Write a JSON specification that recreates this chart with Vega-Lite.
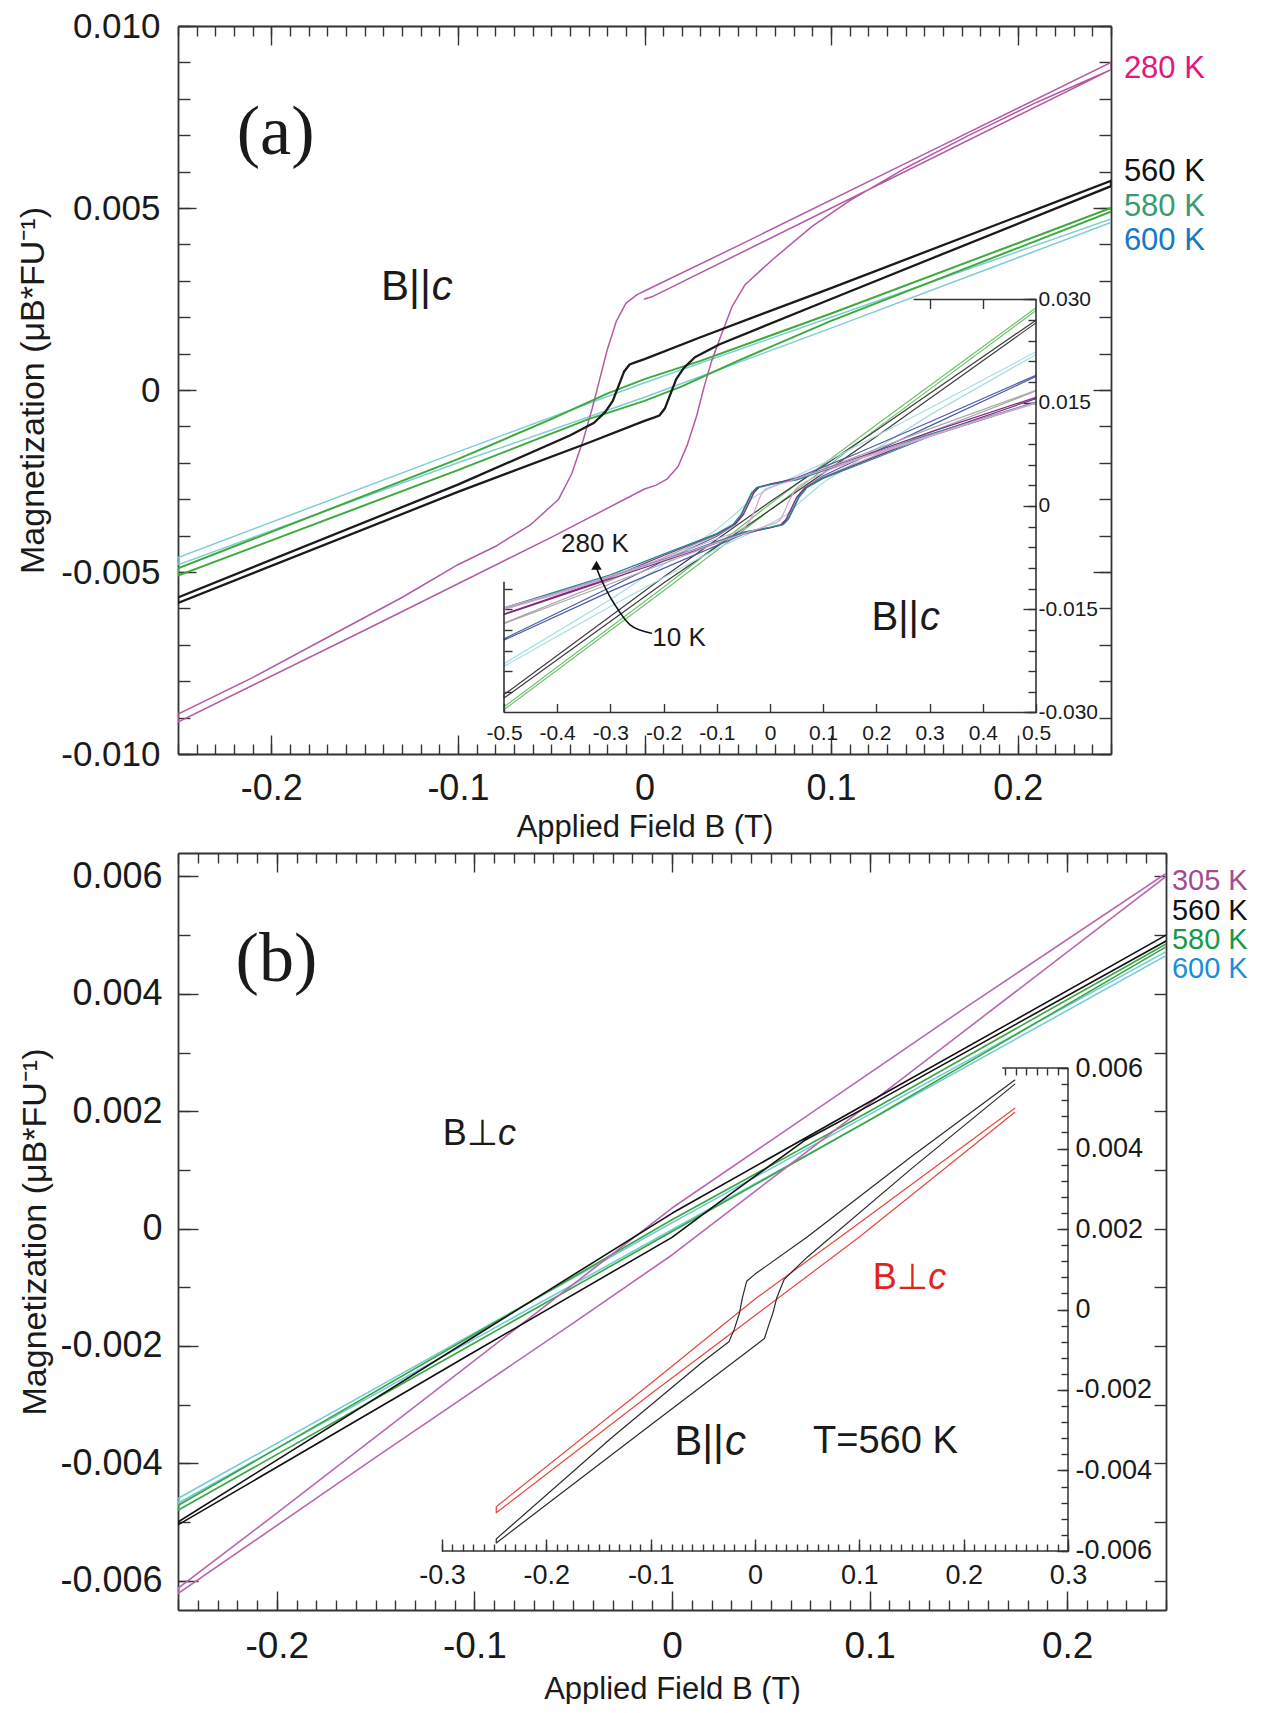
{
"$schema": "https://vega.github.io/schema/vega-lite/v6.json",
"background": "white",
"padding": {"left": 16, "top": 9, "right": 0, "bottom": 0},
"columns": 1,
"spacing": 10,
"config": {
  "view": {"stroke": null},
  "axis": {"grid": false, "labelFont": "Liberation Sans", "titleFont": "Liberation Sans", "labelColor": "#1a1a1a", "titleColor": "#1a1a1a", "tickColor": "#333333", "domainColor": "#333333", "labelFlush": false, "labelOverlap": false, "titleFontWeight": "normal", "tickWidth": 1.4, "domainWidth": 1.8},
  "text": {"font": "Liberation Sans", "color": "#1a1a1a"},
  "line": {"strokeJoin": "round", "strokeCap": "round"}
},
"datasets": {
  "a_main": [
    {"s":"a600","i":0,"B":0.25,"M":0.0047},{"s":"a600","i":1,"B":0.1,"M":0.002},{"s":"a600","i":2,"B":0,"M":0.0002},{"s":"a600","i":3,"B":-0.1,"M":-0.0017},{"s":"a600","i":4,"B":-0.25,"M":-0.0046},{"s":"a600","i":5,"B":-0.25,"M":-0.0048},{"s":"a600","i":6,"B":-0.1,"M":-0.002},{"s":"a600","i":7,"B":0,"M":-0.0002},{"s":"a600","i":8,"B":0.1,"M":0.0017},{"s":"a600","i":9,"B":0.25,"M":0.0046},
    {"s":"a580","i":0,"B":0.25,"M":0.005},{"s":"a580","i":1,"B":0.1,"M":0.0021},{"s":"a580","i":2,"B":0.03,"M":0.0008},{"s":"a580","i":3,"B":0,"M":0.0003},{"s":"a580","i":4,"B":-0.02,"M":-0.0001},{"s":"a580","i":5,"B":-0.05,"M":-0.0008},{"s":"a580","i":6,"B":-0.1,"M":-0.0019},{"s":"a580","i":7,"B":-0.25,"M":-0.0049},{"s":"a580","i":8,"B":-0.25,"M":-0.0051},{"s":"a580","i":9,"B":-0.1,"M":-0.0022},{"s":"a580","i":10,"B":-0.03,"M":-0.0008},{"s":"a580","i":11,"B":0,"M":-0.0003},{"s":"a580","i":12,"B":0.02,"M":0.0001},{"s":"a580","i":13,"B":0.05,"M":0.0008},{"s":"a580","i":14,"B":0.1,"M":0.0019},{"s":"a580","i":15,"B":0.25,"M":0.0049},
    {"s":"a280","i":0,"B":0,"M":0.0025},{"s":"a280","i":1,"B":0.004,"M":0.00256},{"s":"a280","i":2,"B":0.25,"M":0.0088},{"s":"a280","i":3,"B":0.25,"M":0.009},{"s":"a280","i":4,"B":0.15,"M":0.00648},{"s":"a280","i":5,"B":0.05,"M":0.00396},{"s":"a280","i":6,"B":0,"M":0.00272},{"s":"a280","i":7,"B":-0.004,"M":0.00262},{"s":"a280","i":8,"B":-0.01,"M":0.00238},{"s":"a280","i":9,"B":-0.015,"M":0.0019},{"s":"a280","i":10,"B":-0.02,"M":0.0011},{"s":"a280","i":11,"B":-0.024,"M":0.0003},{"s":"a280","i":12,"B":-0.028,"M":-0.0005},{"s":"a280","i":13,"B":-0.033,"M":-0.0014},{"s":"a280","i":14,"B":-0.039,"M":-0.0023},{"s":"a280","i":15,"B":-0.046,"M":-0.003},{"s":"a280","i":16,"B":-0.061,"M":-0.0037},{"s":"a280","i":17,"B":-0.08,"M":-0.0043},{"s":"a280","i":18,"B":-0.1,"M":-0.0048},{"s":"a280","i":19,"B":-0.13,"M":-0.0057},{"s":"a280","i":20,"B":-0.17,"M":-0.0068},{"s":"a280","i":21,"B":-0.21,"M":-0.0079},{"s":"a280","i":22,"B":-0.25,"M":-0.0089},{"s":"a280","i":23,"B":-0.25,"M":-0.00912},{"s":"a280","i":24,"B":-0.15,"M":-0.0066},{"s":"a280","i":25,"B":-0.05,"M":-0.00405},{"s":"a280","i":26,"B":0,"M":-0.00272},{"s":"a280","i":27,"B":0.006,"M":-0.00262},{"s":"a280","i":28,"B":0.012,"M":-0.00245},{"s":"a280","i":29,"B":0.018,"M":-0.0021},{"s":"a280","i":30,"B":0.023,"M":-0.0015},{"s":"a280","i":31,"B":0.028,"M":-0.0007},{"s":"a280","i":32,"B":0.032,"M":0.0001},{"s":"a280","i":33,"B":0.036,"M":0.0008},{"s":"a280","i":34,"B":0.041,"M":0.0015},{"s":"a280","i":35,"B":0.047,"M":0.0023},{"s":"a280","i":36,"B":0.054,"M":0.0029},{"s":"a280","i":37,"B":0.069,"M":0.0036},{"s":"a280","i":38,"B":0.09,"M":0.0045},{"s":"a280","i":39,"B":0.11,"M":0.0052},{"s":"a280","i":40,"B":0.14,"M":0.0061},{"s":"a280","i":41,"B":0.174,"M":0.007},{"s":"a280","i":42,"B":0.21,"M":0.0079},{"s":"a280","i":43,"B":0.25,"M":0.0088},
    {"s":"a560","i":0,"B":0.25,"M":0.00575},{"s":"a560","i":1,"B":0.1,"M":0.0028},{"s":"a560","i":2,"B":0.03,"M":0.00145},{"s":"a560","i":3,"B":0,"M":0.00085},{"s":"a560","i":4,"B":-0.005,"M":0.00076},{"s":"a560","i":5,"B":-0.008,"M":0.0007},{"s":"a560","i":6,"B":-0.011,"M":0.0005},{"s":"a560","i":7,"B":-0.014,"M":0.0001},{"s":"a560","i":8,"B":-0.017,"M":-0.0003},{"s":"a560","i":9,"B":-0.021,"M":-0.0006},{"s":"a560","i":10,"B":-0.027,"M":-0.0009},{"s":"a560","i":11,"B":-0.04,"M":-0.00125},{"s":"a560","i":12,"B":-0.1,"M":-0.0026},{"s":"a560","i":13,"B":-0.25,"M":-0.0057},{"s":"a560","i":14,"B":-0.25,"M":-0.00585},{"s":"a560","i":15,"B":-0.1,"M":-0.0028},{"s":"a560","i":16,"B":-0.03,"M":-0.00145},{"s":"a560","i":17,"B":0,"M":-0.00085},{"s":"a560","i":18,"B":0.005,"M":-0.00076},{"s":"a560","i":19,"B":0.008,"M":-0.0007},{"s":"a560","i":20,"B":0.011,"M":-0.0005},{"s":"a560","i":21,"B":0.014,"M":-0.0001},{"s":"a560","i":22,"B":0.017,"M":0.0003},{"s":"a560","i":23,"B":0.021,"M":0.0006},{"s":"a560","i":24,"B":0.027,"M":0.0009},{"s":"a560","i":25,"B":0.04,"M":0.00125},{"s":"a560","i":26,"B":0.1,"M":0.0025},{"s":"a560","i":27,"B":0.25,"M":0.0056},{"s":"a560","i":28,"B":0.25,"M":0.00575}
  ],
  "a_inset": [
    {"s":"i10","i":0,"B":0.5,"M":0.0288},{"s":"i10","i":1,"B":0.2,"M":0.0118},{"s":"i10","i":2,"B":0,"M":0.0003},{"s":"i10","i":3,"B":-0.2,"M":-0.0118},{"s":"i10","i":4,"B":-0.5,"M":-0.0292},{"s":"i10","i":5,"B":-0.5,"M":-0.0296},{"s":"i10","i":6,"B":-0.2,"M":-0.0123},{"s":"i10","i":7,"B":0,"M":-0.0006},{"s":"i10","i":8,"B":0.2,"M":0.0112},{"s":"i10","i":9,"B":0.5,"M":0.0284},
    {"s":"iblack","i":0,"B":0.5,"M":0.027},{"s":"iblack","i":1,"B":0.2,"M":0.011},{"s":"iblack","i":2,"B":0,"M":0.0006},{"s":"iblack","i":3,"B":-0.2,"M":-0.0103},{"s":"iblack","i":4,"B":-0.5,"M":-0.0274},{"s":"iblack","i":5,"B":-0.5,"M":-0.0279},{"s":"iblack","i":6,"B":-0.2,"M":-0.0112},{"s":"iblack","i":7,"B":0,"M":-0.0006},{"s":"iblack","i":8,"B":0.2,"M":0.0101},{"s":"iblack","i":9,"B":0.5,"M":0.0266},
    {"s":"icyan","i":0,"B":0.5,"M":0.0224},{"s":"icyan","i":1,"B":0.3,"M":0.0142},{"s":"icyan","i":2,"B":0.1,"M":0.0062},{"s":"icyan","i":3,"B":0,"M":0.0026},{"s":"icyan","i":4,"B":-0.03,"M":0.0013},{"s":"icyan","i":5,"B":-0.06,"M":-0.0008},{"s":"icyan","i":6,"B":-0.1,"M":-0.0034},{"s":"icyan","i":7,"B":-0.3,"M":-0.0136},{"s":"icyan","i":8,"B":-0.5,"M":-0.0229},{"s":"icyan","i":9,"B":-0.5,"M":-0.0233},{"s":"icyan","i":10,"B":-0.3,"M":-0.0146},{"s":"icyan","i":11,"B":-0.1,"M":-0.0062},{"s":"icyan","i":12,"B":0,"M":-0.0026},{"s":"icyan","i":13,"B":0.03,"M":-0.0013},{"s":"icyan","i":14,"B":0.06,"M":0.0008},{"s":"icyan","i":15,"B":0.1,"M":0.0034},{"s":"icyan","i":16,"B":0.3,"M":0.0132},{"s":"icyan","i":17,"B":0.5,"M":0.022},
    {"s":"iblue","i":0,"B":0.5,"M":0.019},{"s":"iblue","i":1,"B":0.3,"M":0.0122},{"s":"iblue","i":2,"B":0.15,"M":0.0072},{"s":"iblue","i":3,"B":0.05,"M":0.0041},{"s":"iblue","i":4,"B":0,"M":0.0031},{"s":"iblue","i":5,"B":-0.025,"M":0.0026},{"s":"iblue","i":6,"B":-0.035,"M":0.0017},{"s":"iblue","i":7,"B":-0.045,"M":0.0001},{"s":"iblue","i":8,"B":-0.055,"M":-0.0015},{"s":"iblue","i":9,"B":-0.07,"M":-0.0029},{"s":"iblue","i":10,"B":-0.1,"M":-0.0044},{"s":"iblue","i":11,"B":-0.2,"M":-0.008},{"s":"iblue","i":12,"B":-0.3,"M":-0.0118},{"s":"iblue","i":13,"B":-0.5,"M":-0.0193},{"s":"iblue","i":14,"B":-0.5,"M":-0.0195},{"s":"iblue","i":15,"B":-0.3,"M":-0.0124},{"s":"iblue","i":16,"B":-0.15,"M":-0.0074},{"s":"iblue","i":17,"B":-0.05,"M":-0.0041},{"s":"iblue","i":18,"B":0,"M":-0.0031},{"s":"iblue","i":19,"B":0.025,"M":-0.0026},{"s":"iblue","i":20,"B":0.035,"M":-0.0017},{"s":"iblue","i":21,"B":0.045,"M":-0.0001},{"s":"iblue","i":22,"B":0.055,"M":0.0015},{"s":"iblue","i":23,"B":0.07,"M":0.0029},{"s":"iblue","i":24,"B":0.1,"M":0.0044},{"s":"iblue","i":25,"B":0.2,"M":0.008},{"s":"iblue","i":26,"B":0.3,"M":0.0116},{"s":"iblue","i":27,"B":0.5,"M":0.0188},
    {"s":"igray","i":0,"B":0.5,"M":0.0168},{"s":"igray","i":1,"B":0.3,"M":0.0112},{"s":"igray","i":2,"B":0.15,"M":0.0068},{"s":"igray","i":3,"B":0.05,"M":0.0039},{"s":"igray","i":4,"B":0,"M":0.0031},{"s":"igray","i":5,"B":-0.02,"M":0.0027},{"s":"igray","i":6,"B":-0.03,"M":0.0019},{"s":"igray","i":7,"B":-0.04,"M":0.0003},{"s":"igray","i":8,"B":-0.05,"M":-0.0013},{"s":"igray","i":9,"B":-0.065,"M":-0.0027},{"s":"igray","i":10,"B":-0.1,"M":-0.0042},{"s":"igray","i":11,"B":-0.2,"M":-0.0075},{"s":"igray","i":12,"B":-0.3,"M":-0.0108},{"s":"igray","i":13,"B":-0.5,"M":-0.017},{"s":"igray","i":14,"B":-0.5,"M":-0.0171},{"s":"igray","i":15,"B":-0.3,"M":-0.0113},{"s":"igray","i":16,"B":-0.15,"M":-0.0069},{"s":"igray","i":17,"B":-0.05,"M":-0.0039},{"s":"igray","i":18,"B":0,"M":-0.0031},{"s":"igray","i":19,"B":0.02,"M":-0.0027},{"s":"igray","i":20,"B":0.03,"M":-0.0019},{"s":"igray","i":21,"B":0.04,"M":-0.0003},{"s":"igray","i":22,"B":0.05,"M":0.0013},{"s":"igray","i":23,"B":0.065,"M":0.0027},{"s":"igray","i":24,"B":0.1,"M":0.0042},{"s":"igray","i":25,"B":0.2,"M":0.0074},{"s":"igray","i":26,"B":0.3,"M":0.0107},{"s":"igray","i":27,"B":0.5,"M":0.0167},
    {"s":"ipurple","i":0,"B":0.5,"M":0.0158},{"s":"ipurple","i":1,"B":0.3,"M":0.0107},{"s":"ipurple","i":2,"B":0.15,"M":0.0066},{"s":"ipurple","i":3,"B":0.05,"M":0.0039},{"s":"ipurple","i":4,"B":0,"M":0.0032},{"s":"ipurple","i":5,"B":-0.02,"M":0.0028},{"s":"ipurple","i":6,"B":-0.03,"M":0.002},{"s":"ipurple","i":7,"B":-0.04,"M":0.0004},{"s":"ipurple","i":8,"B":-0.05,"M":-0.0012},{"s":"ipurple","i":9,"B":-0.065,"M":-0.0026},{"s":"ipurple","i":10,"B":-0.1,"M":-0.0041},{"s":"ipurple","i":11,"B":-0.2,"M":-0.0072},{"s":"ipurple","i":12,"B":-0.3,"M":-0.0104},{"s":"ipurple","i":13,"B":-0.5,"M":-0.0157},{"s":"ipurple","i":14,"B":-0.5,"M":-0.0158},{"s":"ipurple","i":15,"B":-0.3,"M":-0.0106},{"s":"ipurple","i":16,"B":-0.15,"M":-0.0067},{"s":"ipurple","i":17,"B":-0.05,"M":-0.0039},{"s":"ipurple","i":18,"B":0,"M":-0.0032},{"s":"ipurple","i":19,"B":0.02,"M":-0.0028},{"s":"ipurple","i":20,"B":0.03,"M":-0.002},{"s":"ipurple","i":21,"B":0.04,"M":-0.0004},{"s":"ipurple","i":22,"B":0.05,"M":0.0012},{"s":"ipurple","i":23,"B":0.065,"M":0.0026},{"s":"ipurple","i":24,"B":0.1,"M":0.0041},{"s":"ipurple","i":25,"B":0.2,"M":0.0072},{"s":"ipurple","i":26,"B":0.3,"M":0.0103},{"s":"ipurple","i":27,"B":0.5,"M":0.0156},
    {"s":"iteal","i":0,"B":0.5,"M":0.0151},{"s":"iteal","i":1,"B":0.3,"M":0.0104},{"s":"iteal","i":2,"B":0.15,"M":0.0064},{"s":"iteal","i":3,"B":0.05,"M":0.0038},{"s":"iteal","i":4,"B":0,"M":0.0031},{"s":"iteal","i":5,"B":-0.025,"M":0.0027},{"s":"iteal","i":6,"B":-0.035,"M":0.0019},{"s":"iteal","i":7,"B":-0.045,"M":0.0003},{"s":"iteal","i":8,"B":-0.055,"M":-0.0013},{"s":"iteal","i":9,"B":-0.07,"M":-0.0027},{"s":"iteal","i":10,"B":-0.1,"M":-0.004},{"s":"iteal","i":11,"B":-0.2,"M":-0.007},{"s":"iteal","i":12,"B":-0.3,"M":-0.01},{"s":"iteal","i":13,"B":-0.5,"M":-0.0148},{"s":"iteal","i":14,"B":-0.5,"M":-0.015},{"s":"iteal","i":15,"B":-0.3,"M":-0.0102},{"s":"iteal","i":16,"B":-0.15,"M":-0.0065},{"s":"iteal","i":17,"B":-0.05,"M":-0.0038},{"s":"iteal","i":18,"B":0,"M":-0.0031},{"s":"iteal","i":19,"B":0.025,"M":-0.0027},{"s":"iteal","i":20,"B":0.035,"M":-0.0019},{"s":"iteal","i":21,"B":0.045,"M":-0.0003},{"s":"iteal","i":22,"B":0.055,"M":0.0013},{"s":"iteal","i":23,"B":0.07,"M":0.0027},{"s":"iteal","i":24,"B":0.1,"M":0.004},{"s":"iteal","i":25,"B":0.2,"M":0.007},{"s":"iteal","i":26,"B":0.3,"M":0.0101},{"s":"iteal","i":27,"B":0.5,"M":0.015},
    {"s":"ipink","i":0,"B":0.5,"M":0.015},{"s":"ipink","i":1,"B":0.4,"M":0.0127},{"s":"ipink","i":2,"B":0.25,"M":0.009},{"s":"ipink","i":3,"B":0.15,"M":0.00648},{"s":"ipink","i":4,"B":0.05,"M":0.00396},{"s":"ipink","i":5,"B":0,"M":0.00272},{"s":"ipink","i":6,"B":-0.004,"M":0.00262},{"s":"ipink","i":7,"B":-0.01,"M":0.00238},{"s":"ipink","i":8,"B":-0.015,"M":0.0019},{"s":"ipink","i":9,"B":-0.02,"M":0.0011},{"s":"ipink","i":10,"B":-0.024,"M":0.0003},{"s":"ipink","i":11,"B":-0.028,"M":-0.0005},{"s":"ipink","i":12,"B":-0.033,"M":-0.0014},{"s":"ipink","i":13,"B":-0.039,"M":-0.0023},{"s":"ipink","i":14,"B":-0.046,"M":-0.003},{"s":"ipink","i":15,"B":-0.061,"M":-0.0037},{"s":"ipink","i":16,"B":-0.1,"M":-0.0048},{"s":"ipink","i":17,"B":-0.17,"M":-0.0068},{"s":"ipink","i":18,"B":-0.25,"M":-0.0089},{"s":"ipink","i":19,"B":-0.4,"M":-0.0126},{"s":"ipink","i":20,"B":-0.5,"M":-0.0148},{"s":"ipink","i":21,"B":-0.5,"M":-0.015},{"s":"ipink","i":22,"B":-0.4,"M":-0.0128},{"s":"ipink","i":23,"B":-0.25,"M":-0.00912},{"s":"ipink","i":24,"B":-0.05,"M":-0.00405},{"s":"ipink","i":25,"B":0,"M":-0.00272},{"s":"ipink","i":26,"B":0.012,"M":-0.00245},{"s":"ipink","i":27,"B":0.018,"M":-0.0021},{"s":"ipink","i":28,"B":0.023,"M":-0.0015},{"s":"ipink","i":29,"B":0.028,"M":-0.0007},{"s":"ipink","i":30,"B":0.032,"M":0.0001},{"s":"ipink","i":31,"B":0.036,"M":0.0008},{"s":"ipink","i":32,"B":0.041,"M":0.0015},{"s":"ipink","i":33,"B":0.047,"M":0.0023},{"s":"ipink","i":34,"B":0.054,"M":0.0029},{"s":"ipink","i":35,"B":0.069,"M":0.0036},{"s":"ipink","i":36,"B":0.11,"M":0.0052},{"s":"ipink","i":37,"B":0.174,"M":0.007},{"s":"ipink","i":38,"B":0.25,"M":0.0088},{"s":"ipink","i":39,"B":0.4,"M":0.0126},{"s":"ipink","i":40,"B":0.5,"M":0.0149}
  ],
  "b_main": [
    {"s":"b600","i":0,"B":0.25,"M":0.00472},{"s":"b600","i":1,"B":0,"M":0.0001},{"s":"b600","i":2,"B":-0.25,"M":-0.0046},{"s":"b600","i":3,"B":-0.25,"M":-0.00468},{"s":"b600","i":4,"B":0,"M":-0.00002},{"s":"b600","i":5,"B":0.25,"M":0.00465},
    {"s":"b580","i":0,"B":0.25,"M":0.00485},{"s":"b580","i":1,"B":0.1,"M":0.002},{"s":"b580","i":2,"B":0,"M":0.00015},{"s":"b580","i":3,"B":-0.1,"M":-0.0018},{"s":"b580","i":4,"B":-0.25,"M":-0.00472},{"s":"b580","i":5,"B":-0.25,"M":-0.0048},{"s":"b580","i":6,"B":-0.1,"M":-0.00195},{"s":"b580","i":7,"B":0,"M":-0.00005},{"s":"b580","i":8,"B":0.1,"M":0.00185},{"s":"b580","i":9,"B":0.25,"M":0.0048},
    {"s":"b305","i":0,"B":0.25,"M":0.00605},{"s":"b305","i":1,"B":0.15,"M":0.0038},{"s":"b305","i":2,"B":0.05,"M":0.0015},{"s":"b305","i":3,"B":0,"M":0.00035},{"s":"b305","i":4,"B":-0.1,"M":-0.00225},{"s":"b305","i":5,"B":-0.2,"M":-0.00485},{"s":"b305","i":6,"B":-0.25,"M":-0.00613},{"s":"b305","i":7,"B":-0.25,"M":-0.00622},{"s":"b305","i":8,"B":-0.15,"M":-0.0039},{"s":"b305","i":9,"B":-0.05,"M":-0.00161},{"s":"b305","i":10,"B":0,"M":-0.00045},{"s":"b305","i":11,"B":0.1,"M":0.00213},{"s":"b305","i":12,"B":0.2,"M":0.00471},{"s":"b305","i":13,"B":0.25,"M":0.006},
    {"s":"b560","i":0,"B":0.25,"M":0.005},{"s":"b560","i":1,"B":0.1,"M":0.00216},{"s":"b560","i":2,"B":0,"M":0.00026},{"s":"b560","i":3,"B":-0.1,"M":-0.00184},{"s":"b560","i":4,"B":-0.25,"M":-0.005},{"s":"b560","i":5,"B":-0.25,"M":-0.00505},{"s":"b560","i":6,"B":-0.1,"M":-0.0021},{"s":"b560","i":7,"B":0,"M":-0.00015},{"s":"b560","i":8,"B":0.03,"M":0.0006},{"s":"b560","i":9,"B":0.067,"M":0.0015},{"s":"b560","i":10,"B":0.1,"M":0.0021},{"s":"b560","i":11,"B":0.25,"M":0.0049}
  ],
  "b_inset": [
    {"s":"ibred","i":0,"B":0.249,"M":0.005},{"s":"ibred","i":1,"B":0.1,"M":0.00215},{"s":"ibred","i":2,"B":0,"M":0.00026},{"s":"ibred","i":3,"B":-0.1,"M":-0.00184},{"s":"ibred","i":4,"B":-0.248,"M":-0.0049},{"s":"ibred","i":5,"B":-0.248,"M":-0.00505},{"s":"ibred","i":6,"B":-0.1,"M":-0.0021},{"s":"ibred","i":7,"B":0,"M":-0.00015},{"s":"ibred","i":8,"B":0.1,"M":0.0018},{"s":"ibred","i":9,"B":0.249,"M":0.0049},
    {"s":"ibblack","i":0,"B":0.249,"M":0.0057},{"s":"ibblack","i":1,"B":0.15,"M":0.0038},{"s":"ibblack","i":2,"B":0.05,"M":0.0018},{"s":"ibblack","i":3,"B":0,"M":0.00088},{"s":"ibblack","i":4,"B":-0.008,"M":0.0007},{"s":"ibblack","i":5,"B":-0.012,"M":0.0003},{"s":"ibblack","i":6,"B":-0.015,"M":-0.0001},{"s":"ibblack","i":7,"B":-0.02,"M":-0.0005},{"s":"ibblack","i":8,"B":-0.025,"M":-0.0008},{"s":"ibblack","i":9,"B":-0.05,"M":-0.0013},{"s":"ibblack","i":10,"B":-0.138,"M":-0.0032},{"s":"ibblack","i":11,"B":-0.248,"M":-0.0057},{"s":"ibblack","i":12,"B":-0.248,"M":-0.0058},{"s":"ibblack","i":13,"B":-0.1,"M":-0.00287},{"s":"ibblack","i":14,"B":0,"M":-0.0009},{"s":"ibblack","i":15,"B":0.009,"M":-0.00072},{"s":"ibblack","i":16,"B":0.013,"M":-0.0004},{"s":"ibblack","i":17,"B":0.017,"M":-0.0001},{"s":"ibblack","i":18,"B":0.021,"M":0.0003},{"s":"ibblack","i":19,"B":0.028,"M":0.00075},{"s":"ibblack","i":20,"B":0.05,"M":0.0013},{"s":"ibblack","i":21,"B":0.15,"M":0.0035},{"s":"ibblack","i":22,"B":0.249,"M":0.0056}
  ]
},
"concat": [
 {
  "width": 933, "height": 728,
  "resolve": {"scale": {"x": "independent", "y": "independent", "color": "independent"}},
  "layer": [
   {
    "resolve": {"axis": {"x": "independent", "y": "independent"}},
    "layer": [
     {"data": {"name": "a_main"}, "transform": [{"filter": "datum.s == 'a600' || datum.s == 'a280'"}],
      "mark": {"type": "line", "clip": true, "strokeWidth": 1.5},
      "encoding": {
        "x": {"field": "B", "type": "quantitative", "scale": {"domain": [-0.25, 0.25], "nice": false, "zero": false},
              "axis": {"orient": "bottom", "values": [-0.2, -0.1, 0, 0.1, 0.2], "labelExpr": "datum.value == 0 ? '0' : replace(format(datum.value, '.1f'), '−', '-')", "tickSize": -19, "labelFontSize": 36, "labelPadding": 36, "title": "Applied Field B (T)", "titleFontSize": 31, "titlePadding": 6}},
        "y": {"field": "M", "type": "quantitative", "scale": {"domain": [-0.01, 0.01], "nice": false, "zero": false},
              "axis": {"orient": "left", "values": [-0.01, -0.005, 0, 0.005, 0.01], "labelExpr": "datum.value == 0 ? '0' : replace(format(datum.value, '.3f'), '−', '-')", "tickSize": -18, "labelFontSize": 35, "labelPadding": 36, "title": "Magnetization (μB*FU⁻¹)", "titleFontSize": 34, "titlePadding": 10}},
        "color": {"field": "s", "type": "nominal", "scale": {"domain": ["a600", "a580", "a280", "a560"], "range": ["#7dcdd5", "#3daa3d", "#b35aa5", "#1a1a1a"]}, "legend": null},
        "order": {"field": "i", "type": "quantitative"}
      }},
     {"data": {"name": "a_main"}, "transform": [{"filter": "datum.s == 'a580'"}],
      "mark": {"type": "line", "clip": true, "strokeWidth": 2.0},
      "encoding": {
        "x": {"field": "B", "type": "quantitative", "scale": {"domain": [-0.25, 0.25], "nice": false, "zero": false}, "axis": null},
        "y": {"field": "M", "type": "quantitative", "scale": {"domain": [-0.01, 0.01], "nice": false, "zero": false}, "axis": null},
        "color": {"field": "s", "type": "nominal", "scale": {"domain": ["a600", "a580", "a280", "a560"], "range": ["#7dcdd5", "#3daa3d", "#b35aa5", "#1a1a1a"]}, "legend": null},
        "order": {"field": "i", "type": "quantitative"}
      }},
     {"data": {"name": "a_main"}, "transform": [{"filter": "datum.s == 'a560'"}],
      "mark": {"type": "line", "clip": true, "strokeWidth": 2.3},
      "encoding": {
        "x": {"field": "B", "type": "quantitative", "scale": {"domain": [-0.25, 0.25], "nice": false, "zero": false}, "axis": null},
        "y": {"field": "M", "type": "quantitative", "scale": {"domain": [-0.01, 0.01], "nice": false, "zero": false}, "axis": null},
        "color": {"field": "s", "type": "nominal", "scale": {"domain": ["a600", "a580", "a280", "a560"], "range": ["#7dcdd5", "#3daa3d", "#b35aa5", "#1a1a1a"]}, "legend": null},
        "order": {"field": "i", "type": "quantitative"}
      }},
     {"data": {"name": "a_main"}, "mark": {"type": "point", "opacity": 0},
      "encoding": {
        "x": {"field": "B", "type": "quantitative", "scale": {"domain": [-0.25, 0.25], "nice": false, "zero": false},
              "axis": {"orient": "bottom", "values": [-0.25,-0.24,-0.23,-0.22,-0.21,-0.2,-0.19,-0.18,-0.17,-0.16,-0.15,-0.14,-0.13,-0.12,-0.11,-0.1,-0.09,-0.08,-0.07,-0.06,-0.05,-0.04,-0.03,-0.02,-0.01,0,0.01,0.02,0.03,0.04,0.05,0.06,0.07,0.08,0.09,0.1,0.11,0.12,0.13,0.14,0.15,0.16,0.17,0.18,0.19,0.2,0.21,0.22,0.23,0.24,0.25], "tickSize": -10, "labels": false, "domain": false, "title": null}},
        "y": {"field": "M", "type": "quantitative", "scale": {"domain": [-0.01, 0.01], "nice": false, "zero": false},
              "axis": {"orient": "left", "values": [-0.01,-0.009,-0.008,-0.007,-0.006,-0.005,-0.004,-0.003,-0.002,-0.001,0,0.001,0.002,0.003,0.004,0.005,0.006,0.007,0.008,0.009,0.01], "tickSize": -12, "labels": false, "domain": false, "title": null}}
      }},
     {"data": {"name": "a_main"}, "mark": {"type": "point", "opacity": 0},
      "encoding": {
        "x": {"field": "B", "type": "quantitative", "scale": {"domain": [-0.25, 0.25], "nice": false, "zero": false},
              "axis": {"orient": "top", "values": [-0.2, -0.1, 0, 0.1, 0.2], "tickSize": -19, "labels": false, "title": null}},
        "y": {"field": "M", "type": "quantitative", "scale": {"domain": [-0.01, 0.01], "nice": false, "zero": false},
              "axis": {"orient": "right", "values": [-0.01, -0.005, 0, 0.005, 0.01], "tickSize": -18, "labels": false, "title": null}}
      }},
     {"data": {"name": "a_main"}, "mark": {"type": "point", "opacity": 0},
      "encoding": {
        "x": {"field": "B", "type": "quantitative", "scale": {"domain": [-0.25, 0.25], "nice": false, "zero": false},
              "axis": {"orient": "top", "values": [-0.25,-0.24,-0.23,-0.22,-0.21,-0.2,-0.19,-0.18,-0.17,-0.16,-0.15,-0.14,-0.13,-0.12,-0.11,-0.1,-0.09,-0.08,-0.07,-0.06,-0.05,-0.04,-0.03,-0.02,-0.01,0,0.01,0.02,0.03,0.04,0.05,0.06,0.07,0.08,0.09,0.1,0.11,0.12,0.13,0.14,0.15,0.16,0.17,0.18,0.19,0.2,0.21,0.22,0.23,0.24,0.25], "tickSize": -10, "labels": false, "domain": false, "title": null}},
        "y": {"field": "M", "type": "quantitative", "scale": {"domain": [-0.01, 0.01], "nice": false, "zero": false},
              "axis": {"orient": "right", "values": [-0.01,-0.009,-0.008,-0.007,-0.006,-0.005,-0.004,-0.003,-0.002,-0.001,0,0.001,0.002,0.003,0.004,0.005,0.006,0.007,0.008,0.009,0.01], "tickSize": -12, "labels": false, "domain": false, "title": null}}
      }},
     {"data": {"values": [{"t": "(a)", "B": -0.1977, "M": 0.00706}]},
      "mark": {"type": "text", "font": "Liberation Serif", "fontSize": 70, "align": "center", "baseline": "middle"},
      "encoding": {
        "x": {"field": "B", "type": "quantitative", "scale": {"domain": [-0.25, 0.25], "nice": false, "zero": false}, "axis": null},
        "y": {"field": "M", "type": "quantitative", "scale": {"domain": [-0.01, 0.01], "nice": false, "zero": false}, "axis": null},
        "text": {"field": "t"}}},
     {"data": {"values": [{"t": "B||", "B": -0.1145, "M": 0.00283}]},
      "mark": {"type": "text", "fontSize": 42, "align": "right", "baseline": "middle"},
      "encoding": {
        "x": {"field": "B", "type": "quantitative", "scale": {"domain": [-0.25, 0.25], "nice": false, "zero": false}, "axis": null},
        "y": {"field": "M", "type": "quantitative", "scale": {"domain": [-0.01, 0.01], "nice": false, "zero": false}, "axis": null},
        "text": {"field": "t"}}},
     {"data": {"values": [{"t": "c", "B": -0.1145, "M": 0.00283}]},
      "mark": {"type": "text", "fontSize": 42, "fontStyle": "italic", "align": "left", "baseline": "middle", "dx": 1},
      "encoding": {
        "x": {"field": "B", "type": "quantitative", "scale": {"domain": [-0.25, 0.25], "nice": false, "zero": false}, "axis": null},
        "y": {"field": "M", "type": "quantitative", "scale": {"domain": [-0.01, 0.01], "nice": false, "zero": false}, "axis": null},
        "text": {"field": "t"}}},
     {"data": {"values": [{"t": "280 K", "B": 0.2569, "M": 0.00882}, {"t": "560 K", "B": 0.2569, "M": 0.00598}, {"t": "580 K", "B": 0.2569, "M": 0.00502}, {"t": "600 K", "B": 0.2569, "M": 0.00409}]},
      "mark": {"type": "text", "fontSize": 31, "align": "left", "baseline": "middle"},
      "encoding": {
        "x": {"field": "B", "type": "quantitative", "scale": {"domain": [-0.25, 0.25], "nice": false, "zero": false}, "axis": null},
        "y": {"field": "M", "type": "quantitative", "scale": {"domain": [-0.01, 0.01], "nice": false, "zero": false}, "axis": null},
        "text": {"field": "t"},
        "color": {"condition": [{"test": "datum.t == '280 K'", "value": "#e3187e"}, {"test": "datum.t == '580 K'", "value": "#3a9b70"}, {"test": "datum.t == '600 K'", "value": "#1479c6"}], "value": "#111111"}}}
    ]
   },
   {
    "resolve": {"axis": {"x": "independent", "y": "independent"}},
    "layer": [
     {"data": {"name": "a_inset"},
      "mark": {"type": "line", "strokeWidth": 1.2},
      "encoding": {
        "x": {"field": "B", "type": "quantitative", "scale": {"domain": [-1.11278, 0.64098], "nice": false, "zero": false},
              "axis": {"orient": "bottom", "offset": -41.5, "values": [-0.5,-0.4,-0.3,-0.2,-0.1,0,0.1,0.2,0.3,0.4,0.5], "labelExpr": "datum.value == 0 ? '0' : replace(format(datum.value, '.1f'), '−', '-')", "tickSize": -9, "domain": false, "labelFontSize": 21, "labelPadding": 19, "title": null}},
        "y": {"field": "M", "type": "quantitative", "scale": {"domain": [-0.03603, 0.06973], "nice": false, "zero": false},
              "axis": {"orient": "right", "offset": -75, "values": [-0.03, -0.015, 0, 0.015, 0.03], "labelExpr": "datum.value == 0 ? '0' : replace(format(datum.value, '.3f'), '−', '-')", "tickSize": -13, "domain": false, "labelFontSize": 21, "labelPadding": 15, "title": null}},
        "color": {"field": "s", "type": "nominal", "scale": {"domain": ["i10", "iblack", "icyan", "iblue", "igray", "ipurple", "iteal", "ipink"], "range": ["#70c36c", "#3c3c3c", "#a7dde3", "#4d5aa8", "#a9a9a9", "#7e2b82", "#1d8b8b", "#d8a2d1"]}, "legend": null},
        "order": {"field": "i", "type": "quantitative"}
      }},
     {"data": {"name": "a_inset"}, "mark": {"type": "point", "opacity": 0},
      "encoding": {
        "x": {"field": "B", "type": "quantitative", "scale": {"domain": [-1.11278, 0.64098], "nice": false, "zero": false},
              "axis": {"orient": "top", "offset": -273.5, "values": [0.3, 0.4], "tickSize": -9, "labels": false, "domain": false, "title": null}},
        "y": {"field": "M", "type": "quantitative", "scale": {"domain": [-0.03603, 0.06973], "nice": false, "zero": false},
              "axis": {"orient": "right", "offset": -75, "values": [-0.03,-0.027,-0.024,-0.021,-0.018,-0.015,-0.012,-0.009,-0.006,-0.003,0,0.003,0.006,0.009,0.012,0.015,0.018,0.021,0.024,0.027,0.03], "tickSize": -8, "labels": false, "domain": false, "title": null}}
      }},
     {"data": {"name": "a_inset"}, "mark": {"type": "point", "opacity": 0},
      "encoding": {
        "x": {"field": "B", "type": "quantitative", "scale": {"domain": [-1.11278, 0.64098], "nice": false, "zero": false}, "axis": null},
        "y": {"field": "M", "type": "quantitative", "scale": {"domain": [-0.03603, 0.06973], "nice": false, "zero": false},
              "axis": {"orient": "left", "offset": -326, "values": [-0.027, -0.024, -0.021, -0.018, -0.015, -0.012], "tickSize": -8, "labels": false, "domain": false, "title": null}}
      }},
     {"data": {"values": [{"B": -0.5, "B2": 0.5, "M": -0.03, "M2": -0.03}, {"B": 0.5, "B2": 0.5, "M": -0.03, "M2": 0.03}, {"B": -0.5, "B2": -0.5, "M": -0.03, "M2": -0.011}, {"B": 0.27, "B2": 0.5, "M": 0.03, "M2": 0.03}]},
      "mark": {"type": "rule", "color": "#333333", "strokeWidth": 1.6},
      "encoding": {
        "x": {"field": "B", "type": "quantitative", "scale": {"domain": [-1.11278, 0.64098], "nice": false, "zero": false}, "axis": null},
        "x2": {"field": "B2"},
        "y": {"field": "M", "type": "quantitative", "scale": {"domain": [-0.03603, 0.06973], "nice": false, "zero": false}, "axis": null},
        "y2": {"field": "M2"}
      }},
     {"data": {"values": [{"i": 0, "B": -0.223, "M": -0.01848}, {"i": 1, "B": -0.263, "M": -0.01726}, {"i": 2, "B": -0.2955, "M": -0.01387}, {"i": 3, "B": -0.3154, "M": -0.01097}, {"i": 4, "B": -0.3252, "M": -0.0092}]},
      "mark": {"type": "line", "interpolate": "cardinal", "color": "#111111", "strokeWidth": 1.6},
      "encoding": {
        "x": {"field": "B", "type": "quantitative", "scale": {"domain": [-1.11278, 0.64098], "nice": false, "zero": false}, "axis": null},
        "y": {"field": "M", "type": "quantitative", "scale": {"domain": [-0.03603, 0.06973], "nice": false, "zero": false}, "axis": null},
        "order": {"field": "i", "type": "quantitative"}
      }},
     {"data": {"values": [{"B": -0.3262, "M": -0.0086}]},
      "mark": {"type": "point", "shape": "triangle-up", "filled": true, "opacity": 1, "color": "#111111", "size": 110},
      "encoding": {
        "x": {"field": "B", "type": "quantitative", "scale": {"domain": [-1.11278, 0.64098], "nice": false, "zero": false}, "axis": null},
        "y": {"field": "M", "type": "quantitative", "scale": {"domain": [-0.03603, 0.06973], "nice": false, "zero": false}, "axis": null}
      }},
     {"data": {"values": [{"t": "280 K", "B": -0.329, "M": -0.00545}, {"t": "10 K", "B": -0.171, "M": -0.01925}]},
      "mark": {"type": "text", "fontSize": 26, "align": "center", "baseline": "middle"},
      "encoding": {
        "x": {"field": "B", "type": "quantitative", "scale": {"domain": [-1.11278, 0.64098], "nice": false, "zero": false}, "axis": null},
        "y": {"field": "M", "type": "quantitative", "scale": {"domain": [-0.03603, 0.06973], "nice": false, "zero": false}, "axis": null},
        "text": {"field": "t"}}},
     {"data": {"values": [{"t": "B||", "B": 0.28, "M": -0.0163}]},
      "mark": {"type": "text", "fontSize": 40, "align": "right", "baseline": "middle"},
      "encoding": {
        "x": {"field": "B", "type": "quantitative", "scale": {"domain": [-1.11278, 0.64098], "nice": false, "zero": false}, "axis": null},
        "y": {"field": "M", "type": "quantitative", "scale": {"domain": [-0.03603, 0.06973], "nice": false, "zero": false}, "axis": null},
        "text": {"field": "t"}}},
     {"data": {"values": [{"t": "c", "B": 0.28, "M": -0.0163}]},
      "mark": {"type": "text", "fontSize": 40, "fontStyle": "italic", "align": "left", "baseline": "middle", "dx": 1},
      "encoding": {
        "x": {"field": "B", "type": "quantitative", "scale": {"domain": [-1.11278, 0.64098], "nice": false, "zero": false}, "axis": null},
        "y": {"field": "M", "type": "quantitative", "scale": {"domain": [-0.03603, 0.06973], "nice": false, "zero": false}, "axis": null},
        "text": {"field": "t"}}}
    ]
   }
  ]
 },
 {
  "width": 988, "height": 757,
  "resolve": {"scale": {"x": "independent", "y": "independent", "color": "independent"}},
  "layer": [
   {
    "resolve": {"axis": {"x": "independent", "y": "independent"}},
    "layer": [
     {"data": {"name": "b_main"},
      "mark": {"type": "line", "clip": true, "strokeWidth": 1.6},
      "encoding": {
        "x": {"field": "B", "type": "quantitative", "scale": {"domain": [-0.25, 0.25], "nice": false, "zero": false},
              "axis": {"orient": "bottom", "values": [-0.2, -0.1, 0, 0.1, 0.2], "labelExpr": "datum.value == 0 ? '0' : replace(format(datum.value, '.1f'), '−', '-')", "tickSize": -19, "labelFontSize": 37, "labelPadding": 37, "title": "Applied Field B (T)", "titleFontSize": 31, "titlePadding": 10}},
        "y": {"field": "M", "type": "quantitative", "scale": {"domain": [-0.0065, 0.0064], "nice": false, "zero": false},
              "axis": {"orient": "left", "values": [-0.006, -0.004, -0.002, 0, 0.002, 0.004, 0.006], "labelExpr": "datum.value == 0 ? '0' : replace(format(datum.value, '.3f'), '−', '-')", "tickSize": -20, "labelFontSize": 36, "labelPadding": 36, "title": "Magnetization (μB*FU⁻¹)", "titleFontSize": 34, "titlePadding": 7}},
        "color": {"field": "s", "type": "nominal", "scale": {"domain": ["b600", "b580", "b305", "b560"], "range": ["#72ccd6", "#3aa645", "#b869b0", "#111111"]}, "legend": null},
        "order": {"field": "i", "type": "quantitative"}
      }},
     {"data": {"name": "b_main"}, "mark": {"type": "point", "opacity": 0},
      "encoding": {
        "x": {"field": "B", "type": "quantitative", "scale": {"domain": [-0.25, 0.25], "nice": false, "zero": false},
              "axis": {"orient": "bottom", "values": [-0.25,-0.24,-0.23,-0.22,-0.21,-0.2,-0.19,-0.18,-0.17,-0.16,-0.15,-0.14,-0.13,-0.12,-0.11,-0.1,-0.09,-0.08,-0.07,-0.06,-0.05,-0.04,-0.03,-0.02,-0.01,0,0.01,0.02,0.03,0.04,0.05,0.06,0.07,0.08,0.09,0.1,0.11,0.12,0.13,0.14,0.15,0.16,0.17,0.18,0.19,0.2,0.21,0.22,0.23,0.24,0.25], "tickSize": -10, "labels": false, "domain": false, "title": null}},
        "y": {"field": "M", "type": "quantitative", "scale": {"domain": [-0.0065, 0.0064], "nice": false, "zero": false},
              "axis": {"orient": "left", "values": [-0.006,-0.005,-0.004,-0.003,-0.002,-0.001,0,0.001,0.002,0.003,0.004,0.005,0.006], "tickSize": -12, "labels": false, "domain": false, "title": null}}
      }},
     {"data": {"name": "b_main"}, "mark": {"type": "point", "opacity": 0},
      "encoding": {
        "x": {"field": "B", "type": "quantitative", "scale": {"domain": [-0.25, 0.25], "nice": false, "zero": false},
              "axis": {"orient": "top", "values": [-0.2, -0.1, 0, 0.1, 0.2], "tickSize": -19, "labels": false, "title": null}},
        "y": {"field": "M", "type": "quantitative", "scale": {"domain": [-0.0065, 0.0064], "nice": false, "zero": false},
              "axis": {"orient": "right", "values": [-0.006,-0.005,-0.004,-0.003,-0.002,-0.001,0,0.001,0.002,0.003,0.004,0.005,0.006], "tickSize": -12, "labels": false, "title": null}}
      }},
     {"data": {"name": "b_main"}, "mark": {"type": "point", "opacity": 0},
      "encoding": {
        "x": {"field": "B", "type": "quantitative", "scale": {"domain": [-0.25, 0.25], "nice": false, "zero": false},
              "axis": {"orient": "top", "values": [-0.25,-0.24,-0.23,-0.22,-0.21,-0.2,-0.19,-0.18,-0.17,-0.16,-0.15,-0.14,-0.13,-0.12,-0.11,-0.1,-0.09,-0.08,-0.07,-0.06,-0.05,-0.04,-0.03,-0.02,-0.01,0,0.01,0.02,0.03,0.04,0.05,0.06,0.07,0.08,0.09,0.1,0.11,0.12,0.13,0.14,0.15,0.16,0.17,0.18,0.19,0.2,0.21,0.22,0.23,0.24,0.25], "tickSize": -10, "labels": false, "domain": false, "title": null}},
        "y": {"field": "M", "type": "quantitative", "scale": {"domain": [-0.0065, 0.0064], "nice": false, "zero": false}, "axis": null}
      }},
     {"data": {"values": [{"t": "(b)", "B": -0.2002, "M": 0.00458}]},
      "mark": {"type": "text", "font": "Liberation Serif", "fontSize": 70, "align": "center", "baseline": "middle"},
      "encoding": {
        "x": {"field": "B", "type": "quantitative", "scale": {"domain": [-0.25, 0.25], "nice": false, "zero": false}, "axis": null},
        "y": {"field": "M", "type": "quantitative", "scale": {"domain": [-0.0065, 0.0064], "nice": false, "zero": false}, "axis": null},
        "text": {"field": "t"}}},
     {"data": {"values": [{"t": "B⊥", "B": -0.088, "M": 0.00162}]},
      "mark": {"type": "text", "font": "Liberation Sans, DejaVu Sans", "fontSize": 36, "align": "right", "baseline": "middle"},
      "encoding": {
        "x": {"field": "B", "type": "quantitative", "scale": {"domain": [-0.25, 0.25], "nice": false, "zero": false}, "axis": null},
        "y": {"field": "M", "type": "quantitative", "scale": {"domain": [-0.0065, 0.0064], "nice": false, "zero": false}, "axis": null},
        "text": {"field": "t"}}},
     {"data": {"values": [{"t": "c", "B": -0.088, "M": 0.00162}]},
      "mark": {"type": "text", "fontSize": 36, "fontStyle": "italic", "align": "left", "baseline": "middle"},
      "encoding": {
        "x": {"field": "B", "type": "quantitative", "scale": {"domain": [-0.25, 0.25], "nice": false, "zero": false}, "axis": null},
        "y": {"field": "M", "type": "quantitative", "scale": {"domain": [-0.0065, 0.0064], "nice": false, "zero": false}, "axis": null},
        "text": {"field": "t"}}},
     {"data": {"values": [{"t": "305 K", "B": 0.253, "M": 0.00592}, {"t": "560 K", "B": 0.253, "M": 0.00542}, {"t": "580 K", "B": 0.253, "M": 0.00492}, {"t": "600 K", "B": 0.253, "M": 0.00442}]},
      "mark": {"type": "text", "fontSize": 29, "align": "left", "baseline": "middle"},
      "encoding": {
        "x": {"field": "B", "type": "quantitative", "scale": {"domain": [-0.25, 0.25], "nice": false, "zero": false}, "axis": null},
        "y": {"field": "M", "type": "quantitative", "scale": {"domain": [-0.0065, 0.0064], "nice": false, "zero": false}, "axis": null},
        "text": {"field": "t"},
        "color": {"condition": [{"test": "datum.t == '305 K'", "value": "#a24b94"}, {"test": "datum.t == '580 K'", "value": "#14984a"}, {"test": "datum.t == '600 K'", "value": "#1690dc"}], "value": "#111111"}}}
    ]
   },
   {
    "resolve": {"axis": {"x": "independent", "y": "independent"}},
    "layer": [
     {"data": {"name": "b_inset"},
      "mark": {"type": "line", "strokeWidth": 1.2},
      "encoding": {
        "x": {"field": "B", "type": "quantitative", "scale": {"domain": [-0.55304, 0.39393], "nice": false, "zero": false},
              "axis": {"orient": "bottom", "offset": -59, "values": [-0.3,-0.2,-0.1,0,0.1,0.2,0.3], "labelExpr": "datum.value == 0 ? '0' : replace(format(datum.value, '.1f'), '−', '-')", "tickSize": -12, "domain": false, "labelFontSize": 27, "labelPadding": 23, "title": null}},
        "y": {"field": "M", "type": "quantitative", "scale": {"domain": [-0.007466, 0.011342], "nice": false, "zero": false},
              "axis": {"orient": "right", "offset": -98, "values": [-0.006,-0.004,-0.002,0,0.002,0.004,0.006], "labelExpr": "datum.value == 0 ? '0' : replace(format(datum.value, '.3f'), '−', '-')", "tickSize": -11, "domain": false, "labelFontSize": 27, "labelPadding": 18, "title": null}},
        "color": {"field": "s", "type": "nominal", "scale": {"domain": ["ibred", "ibblack"], "range": ["#e5483e", "#2b2b2b"]}, "legend": null},
        "order": {"field": "i", "type": "quantitative"}
      }},
     {"data": {"name": "b_inset"}, "mark": {"type": "point", "opacity": 0},
      "encoding": {
        "x": {"field": "B", "type": "quantitative", "scale": {"domain": [-0.55304, 0.39393], "nice": false, "zero": false},
              "axis": {"orient": "bottom", "offset": -59, "values": [-0.3,-0.29,-0.28,-0.27,-0.26,-0.25,-0.24,-0.23,-0.22,-0.21,-0.2,-0.19,-0.18,-0.17,-0.16,-0.15,-0.14,-0.13,-0.12,-0.11,-0.1,-0.09,-0.08,-0.07,-0.06,-0.05,-0.04,-0.03,-0.02,-0.01,0,0.01,0.02,0.03,0.04,0.05,0.06,0.07,0.08,0.09,0.1,0.11,0.12,0.13,0.14,0.15,0.16,0.17,0.18,0.19,0.2,0.21,0.22,0.23,0.24,0.25,0.26,0.27,0.28,0.29,0.3], "tickSize": -7, "labels": false, "domain": false, "title": null}},
        "y": {"field": "M", "type": "quantitative", "scale": {"domain": [-0.007466, 0.011342], "nice": false, "zero": false},
              "axis": {"orient": "right", "offset": -98, "values": [-0.006,-0.0056,-0.0052,-0.0048,-0.0044,-0.004,-0.0036,-0.0032,-0.0028,-0.0024,-0.002,-0.0016,-0.0012,-0.0008,-0.0004,0,0.0004,0.0008,0.0012,0.0016,0.002,0.0024,0.0028,0.0032,0.0036,0.004,0.0044,0.0048,0.0052,0.0056,0.006], "tickSize": -7, "labels": false, "domain": false, "title": null}}
      }},
     {"data": {"name": "b_inset"}, "mark": {"type": "point", "opacity": 0},
      "encoding": {
        "x": {"field": "B", "type": "quantitative", "scale": {"domain": [-0.55304, 0.39393], "nice": false, "zero": false},
              "axis": {"orient": "top", "offset": -215, "values": [0.24, 0.25, 0.26, 0.27, 0.28, 0.29], "tickSize": -7, "labels": false, "domain": false, "title": null}},
        "y": {"field": "M", "type": "quantitative", "scale": {"domain": [-0.007466, 0.011342], "nice": false, "zero": false}, "axis": null}
      }},
     {"data": {"values": [{"B": -0.3, "B2": 0.3, "M": -0.006, "M2": -0.006}, {"B": 0.3, "B2": 0.3, "M": -0.006, "M2": 0.006}, {"B": 0.237, "B2": 0.3, "M": 0.006, "M2": 0.006}]},
      "mark": {"type": "rule", "color": "#333333", "strokeWidth": 1.5},
      "encoding": {
        "x": {"field": "B", "type": "quantitative", "scale": {"domain": [-0.55304, 0.39393], "nice": false, "zero": false}, "axis": null},
        "x2": {"field": "B2"},
        "y": {"field": "M", "type": "quantitative", "scale": {"domain": [-0.007466, 0.011342], "nice": false, "zero": false}, "axis": null},
        "y2": {"field": "M2"}
      }},
     {"data": {"values": [{"t": "B⊥", "B": 0.166, "M": 0.00078}]},
      "mark": {"type": "text", "font": "Liberation Sans, DejaVu Sans", "fontSize": 36, "align": "right", "baseline": "middle", "color": "#e0241c"},
      "encoding": {
        "x": {"field": "B", "type": "quantitative", "scale": {"domain": [-0.55304, 0.39393], "nice": false, "zero": false}, "axis": null},
        "y": {"field": "M", "type": "quantitative", "scale": {"domain": [-0.007466, 0.011342], "nice": false, "zero": false}, "axis": null},
        "text": {"field": "t"}}},
     {"data": {"values": [{"t": "c", "B": 0.166, "M": 0.00078}]},
      "mark": {"type": "text", "fontSize": 36, "fontStyle": "italic", "align": "left", "baseline": "middle", "color": "#e0241c"},
      "encoding": {
        "x": {"field": "B", "type": "quantitative", "scale": {"domain": [-0.55304, 0.39393], "nice": false, "zero": false}, "axis": null},
        "y": {"field": "M", "type": "quantitative", "scale": {"domain": [-0.007466, 0.011342], "nice": false, "zero": false}, "axis": null},
        "text": {"field": "t"}}},
     {"data": {"values": [{"t": "B||", "B": -0.0297, "M": -0.0033}]},
      "mark": {"type": "text", "fontSize": 42, "align": "right", "baseline": "middle"},
      "encoding": {
        "x": {"field": "B", "type": "quantitative", "scale": {"domain": [-0.55304, 0.39393], "nice": false, "zero": false}, "axis": null},
        "y": {"field": "M", "type": "quantitative", "scale": {"domain": [-0.007466, 0.011342], "nice": false, "zero": false}, "axis": null},
        "text": {"field": "t"}}},
     {"data": {"values": [{"t": "c", "B": -0.0297, "M": -0.0033}]},
      "mark": {"type": "text", "fontSize": 42, "fontStyle": "italic", "align": "left", "baseline": "middle", "dx": 1},
      "encoding": {
        "x": {"field": "B", "type": "quantitative", "scale": {"domain": [-0.55304, 0.39393], "nice": false, "zero": false}, "axis": null},
        "y": {"field": "M", "type": "quantitative", "scale": {"domain": [-0.007466, 0.011342], "nice": false, "zero": false}, "axis": null},
        "text": {"field": "t"}}},
     {"data": {"values": [{"t": "T=560 K", "B": 0.125, "M": -0.0033}]},
      "mark": {"type": "text", "fontSize": 38, "align": "center", "baseline": "middle"},
      "encoding": {
        "x": {"field": "B", "type": "quantitative", "scale": {"domain": [-0.55304, 0.39393], "nice": false, "zero": false}, "axis": null},
        "y": {"field": "M", "type": "quantitative", "scale": {"domain": [-0.007466, 0.011342], "nice": false, "zero": false}, "axis": null},
        "text": {"field": "t"}}}
    ]
   }
  ]
 }
]
}
